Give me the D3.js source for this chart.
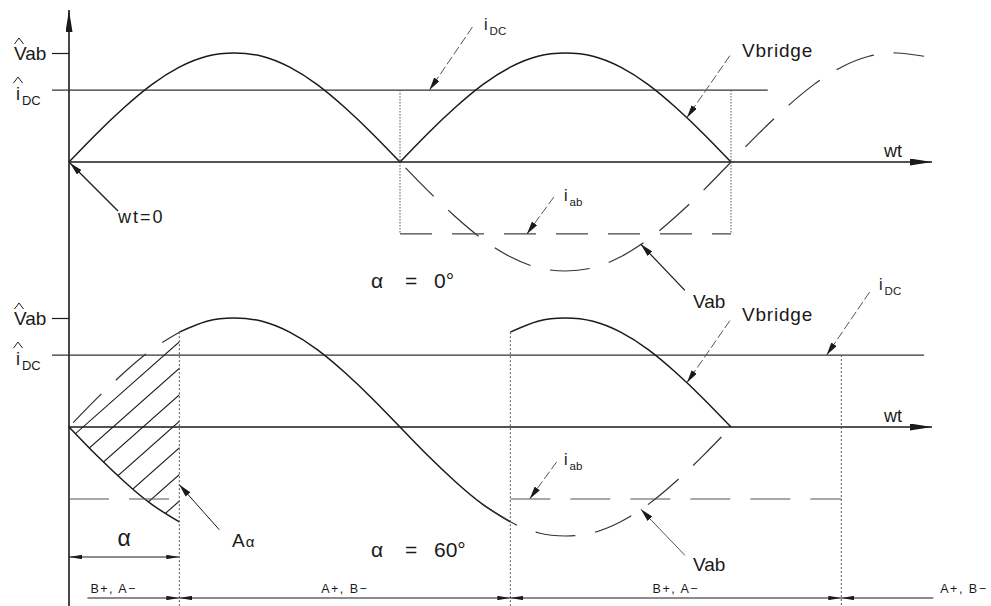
<!DOCTYPE html>
<html>
<head>
<meta charset="utf-8">
<script src="https://cdn.jsdelivr.net/npm/d3@7"></script>
<style>
  html, body { margin: 0; padding: 0; background: #fff; }
  svg { display: block; }
  text { font-family: "Liberation Sans", Arial, sans-serif; fill: #1a1a1a; }
</style>
</head>
<body>
<svg id="chart" width="991" height="606"></svg>
<script>
// Phase angle wt in degrees, and the normalised line voltage Vab at each angle
const angleDeg = [0, 15, 30, 45, 60, 75, 90, 105, 120, 135, 150, 165, 180, 195, 210, 225,
  240, 255, 270, 285, 300, 315, 330, 345, 360, 375, 390, 405, 420, 435, 450, 465];
const vabValues = [0, 0.26, 0.5, 0.71, 0.87, 0.97, 1, 0.97, 0.87, 0.71, 0.5, 0.26, 0,
  -0.26, -0.5, -0.71, -0.87, -0.97, -1, -0.97, -0.87, -0.71, -0.5, -0.26, 0,
  0.26, 0.5, 0.71, 0.87, 0.97, 1, 0.97];

// DC link current level relative to the Vab peak
const idcLevel = 0.66;

// Firing angle of each panel and its caption
const firingAngles = [0, 60];
const panelCaptions = ["0°", "60°"];

// Switch pairs conducting for the alpha = 60 case, with their angle spans
const conductionLabels = ["B+, A\u2212", "A+, B\u2212", "B+, A\u2212", "A+, B\u2212"];
const conductionSpans = [[10, 60], [60, 240], [240, 420], [420, 470]];

const svg = d3.select("#chart");
const ink = "#1a1a1a";

const x = d3.scaleLinear().domain([0, 180]).range([69, 400]);
const yTop = d3.scaleLinear().domain([-1, 1]).range([271, 53]);
const yBot = d3.scaleLinear().domain([-1, 1]).range([536, 318]);

const vab = angleDeg.map((d, i) => ({ deg: d, v: vabValues[i] }));
const seg = (a, b, sign) => vab.filter(p => p.deg >= a && p.deg <= b).map(p => ({ deg: p.deg, v: p.v * sign }));

// ---- marker definitions ----
const defs = svg.append("defs");
function headMarker(id, len, half) {
  defs.append("marker").attr("id", id)
    .attr("viewBox", `0 ${-half} ${len} ${half * 2}`)
    .attr("refX", len).attr("refY", 0)
    .attr("markerUnits", "userSpaceOnUse")
    .attr("markerWidth", len).attr("markerHeight", half * 2)
    .attr("orient", "auto-start-reverse")
    .append("path").attr("d", `M0,${-half}L${len},0L0,${half}Z`).attr("fill", ink);
}
headMarker("axisHead", 22, 3.5);
headMarker("ptrHead", 13, 3.2);
headMarker("dimHead", 13, 2.2);

// ---- shared vertical axis ----
svg.append("line").attr("x1", x(0)).attr("x2", x(0)).attr("y1", 606).attr("y2", 10)
  .attr("stroke", ink).attr("stroke-width", 1.6).attr("marker-end", "url(#axisHead)");

function hat(cx, cy, w) {
  svg.append("path").attr("d", `M${cx - w / 2},${cy + 4}L${cx},${cy - 2}L${cx + w / 2},${cy + 4}`)
    .attr("fill", "none").attr("stroke", ink).attr("stroke-width", 1);
}

function subLabel(tx, ty, main, sub, size) {
  const t = svg.append("text").attr("x", tx).attr("y", ty).attr("font-size", size);
  t.append("tspan").text(main);
  t.append("tspan").attr("dx", 2).attr("dy", 5).attr("font-size", size * 0.72).text(sub);
  return t;
}

function pointer(tip, dx, dy, style, width) {
  svg.append("line")
    .attr("x1", tip[0] + dx).attr("y1", tip[1] + dy).attr("x2", tip[0]).attr("y2", tip[1])
    .attr("stroke", style === "solid" ? ink : "#555").attr("stroke-width", width || 1)
    .attr("stroke-dasharray", style === "dashed" ? "9,3" : null)
    .attr("marker-end", "url(#ptrHead)");
}

const line = y => d3.line().x(d => x(d.deg)).y(d => y(d.v)).curve(d3.curveNatural);

firingAngles.forEach((alpha, pi) => {
  const y = pi === 0 ? yTop : yBot;
  const g = svg.append("g");

  // Vab peak tick on the vertical axis
  g.append("g").attr("transform", `translate(${x(0)},0)`)
    .call(d3.axisLeft(y).tickValues([1]).tickSize(17).tickFormat(""))
    .call(a => a.select(".domain").remove())
    .selectAll("line").attr("stroke", ink).attr("stroke-width", 1.2);

  // left labels: V̂ab and îDC
  const vy = y(1);
  svg.append("text").attr("x", 14).attr("y", vy + 7).attr("font-size", 19).text("Vab");
  hat(19, vy - 13, 9);
  subLabel(16, y(idcLevel) + 10, "i", "DC", 18);
  hat(18, y(idcLevel) - 11, 9);

  // wt axis
  g.append("line").attr("x1", x(0)).attr("x2", 932).attr("y1", y(0)).attr("y2", y(0))
    .attr("stroke", ink).attr("stroke-width", 1.5).attr("marker-end", "url(#axisHead)");
  svg.append("text").attr("x", 884).attr("y", y(0) - 5).attr("font-size", 18).text("wt");

  // DC current level
  const idcEnd = pi === 0 ? 380 : 465;
  g.append("line").attr("x1", 52).attr("x2", x(idcEnd)).attr("y1", y(idcLevel)).attr("y2", y(idcLevel))
    .attr("stroke", "#333").attr("stroke-width", 1.2);

  const dashed = { stroke: "#333", width: 1.2, dash: "40,20" };

  if (pi === 0) {
    // bridge voltage = rectified Vab
    [[0, 180, 1], [180, 360, -1]].forEach(([a, b, s]) => {
      g.append("path").attr("d", line(y)(seg(a, b, s)))
        .attr("fill", "none").attr("stroke", ink).attr("stroke-width", 1.5);
    });
    // Vab (dashed)
    g.append("path").attr("d", line(y)(seg(180, 465, 1)))
      .attr("fill", "none").attr("stroke", dashed.stroke).attr("stroke-width", dashed.width)
      .attr("stroke-dasharray", dashed.dash).attr("stroke-dashoffset", -8);
    // iab square wave
    g.append("line").attr("x1", x(180)).attr("x2", x(360)).attr("y1", y(-idcLevel)).attr("y2", y(-idcLevel))
      .attr("stroke", "#444").attr("stroke-width", 1.2).attr("stroke-dasharray", "32,20");
    [180, 360].forEach(d => {
      g.append("line").attr("x1", x(d)).attr("x2", x(d)).attr("y1", y(idcLevel)).attr("y2", y(-idcLevel))
        .attr("stroke", "#555").attr("stroke-width", 1).attr("stroke-dasharray", "1.5,1.5");
    });
  } else {
    // hatched area A_alpha between Vab and the bridge voltage before firing
    const area = d3.area().x(d => x(d.deg)).y0(d => y(-d.v)).y1(d => y(d.v)).curve(d3.curveNatural);
    defs.append("clipPath").attr("id", "hatchClip").append("path").attr("d", area(seg(0, alpha, 1)));
    const hg = g.append("g").attr("clip-path", "url(#hatchClip)");
    for (let k = -1; k < 9; k++) {
      const x0 = x(0) - 16 + 30 * k;
      hg.append("line").attr("x1", x0 - 200).attr("y1", y(0) + 177).attr("x2", x0 + 200).attr("y2", y(0) - 177)
        .attr("stroke", ink).attr("stroke-width", 1.1);
    }
    // bridge voltage: -Vab before firing, Vab until 240, -Vab after
    [[0, alpha, -1], [alpha, 240, 1], [240, 360, -1]].forEach(([a, b, s]) => {
      g.append("path").attr("d", line(y)(seg(a, b, s)))
        .attr("fill", "none").attr("stroke", ink).attr("stroke-width", 1.5);
    });
    // Vab (dashed)
    [[0, alpha], [225, 360]].forEach(([a, b], i) => {
      g.append("path").attr("d", line(y)(seg(a, b, 1)))
        .attr("fill", "none").attr("stroke", dashed.stroke).attr("stroke-width", dashed.width)
        .attr("stroke-dasharray", dashed.dash).attr("stroke-dashoffset", i === 0 ? -6 : 0);
    });
    // iab square wave
    [[0, alpha], [240, 420]].forEach(([a, b]) => {
      g.append("line").attr("x1", x(a)).attr("x2", x(b)).attr("y1", y(-idcLevel)).attr("y2", y(-idcLevel))
        .attr("stroke", "#555").attr("stroke-width", 1.1).attr("stroke-dasharray", "40,20");
    });
    [[alpha, 0.87], [240, 0.87], [420, idcLevel]].forEach(([d, v]) => {
      g.append("line").attr("x1", x(d)).attr("x2", x(d)).attr("y1", y(v)).attr("y2", 606)
        .attr("stroke", "#555").attr("stroke-width", 1).attr("stroke-dasharray", "2,2");
    });

    // alpha dimension
    g.append("line").attr("x1", x(0)).attr("x2", x(alpha)).attr("y1", 557).attr("y2", 557)
      .attr("stroke", ink).attr("stroke-width", 1)
      .attr("marker-start", "url(#dimHead)").attr("marker-end", "url(#dimHead)");
    svg.append("text").attr("x", (x(0) + x(alpha)) / 2).attr("y", 546).attr("text-anchor", "middle")
      .attr("font-size", 23).text("α");

    // conduction intervals
    conductionSpans.forEach(([a, b], i) => {
      g.append("line").attr("x1", x(a)).attr("x2", x(b)).attr("y1", 598).attr("y2", 598)
        .attr("stroke", ink).attr("stroke-width", 1.1)
        .attr("marker-start", i > 0 ? "url(#dimHead)" : null)
        .attr("marker-end", i < conductionSpans.length - 1 ? "url(#dimHead)" : null);
      const t = svg.append("text").attr("y", 593).attr("font-size", 12.5).attr("letter-spacing", 1.5)
        .text(conductionLabels[i]);
      if (i === 0) t.attr("x", x(a) + 3);
      else if (i === conductionSpans.length - 1) t.attr("x", x(b) + 7);
      else t.attr("x", (x(a) + x(b)) / 2).attr("text-anchor", "middle");
    });

    // A_alpha label
    const aa = svg.append("text").attr("x", 232).attr("y", 547).attr("font-size", 19);
    aa.append("tspan").text("A");
    aa.append("tspan").attr("dx", 1).attr("font-size", 15).text("α");
    pointer([x(alpha), y(-0.53)], 40, 45, "solid", 1);
  }

  // alpha caption
  const cy = pi === 0 ? 288 : 557;
  const cap = svg.append("text").attr("y", cy).attr("font-size", 21);
  cap.append("tspan").attr("x", 371).text("α");
  cap.append("tspan").attr("x", 405).text("=");
  cap.append("tspan").attr("x", 434).text(panelCaptions[pi]);

  // annotations
  svg.append("text").attr("x", 742).attr("y", pi === 0 ? 57 : 321).attr("font-size", 19)
    .attr("letter-spacing", 0.8).text("Vbridge");
  pointer([x(336), y(0.407)], 43, -62, "dashed");

  const idcTip = pi === 0 ? 196 : 412;
  subLabel(pi === 0 ? 484 : 879, pi === 0 ? 30 : 290, "i", "DC", 16);
  pointer([x(idcTip), y(idcLevel)], 43, -63, "dashed");

  subLabel(564, pi === 0 ? 201 : 465, "i", "ab", 16);
  pointer([x(pi === 0 ? 249 : 250.5), y(-idcLevel)], 27, -37, "dashed");

  svg.append("text").attr("x", 693).attr("y", pi === 0 ? 308 : 571).attr("font-size", 19).text("Vab");
  pointer([x(311), y(-0.755)], 44, 46, pi === 0 ? "solid" : "thin", pi === 0 ? 1.2 : 1);

  if (pi === 0) {
    pointer([x(0) + 1, y(0) + 1], 48, 48, "solid", 1.3);
    svg.append("text").attr("x", 118).attr("y", 223).attr("font-size", 18)
      .attr("letter-spacing", 2).text("wt=0");
  }
});
</script>
</body>
</html>
